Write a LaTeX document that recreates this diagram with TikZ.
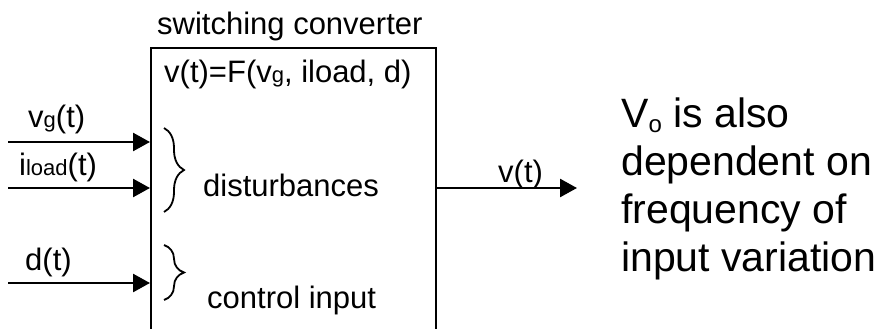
\documentclass[tikz,border=0pt]{standalone}
\usepackage{fontspec}
\setmainfont{Liberation Sans}
\usepackage{tikz}
\usetikzlibrary{arrows.meta,positioning,calc,decorations.pathreplacing}
\tikzset{
  block/.style={draw, line width=2pt, rectangle, inner sep=0pt},
  sig/.style={-{Triangle[length=17pt, width=18pt]}, line width=2.6pt},
  lbl/.style={font=\fontsize{31}{37}\selectfont, inner sep=0pt},
  note/.style={font=\fontsize{41}{48}\selectfont, inner sep=0pt, align=left},
  curly/.style={decorate, decoration={brace, amplitude=20pt}, line width=1.8pt},
}
% smaller index letters in the signal names
\newcommand{\idx}[1]{{\fontsize{22}{26}\selectfont #1}}

\begin{document}
\begin{tikzpicture}[x=1pt, y=-1pt]
  \useasboundingbox (0,0) rectangle (887,329);
  \clip (0,0) rectangle (887,329);

  % converter block (runs off the bottom)
  \node[block, minimum width=285pt, minimum height=300pt, anchor=north west]
    (conv) at (150,47) {};
  \node[lbl, anchor=base west] (title) at (157,35) {switching converter};
  \node[lbl, anchor=base west] (func) at (164,83) {v(t)=F(v\idx{g}, iload, d)};

  % inputs
  \coordinate (vgin) at (8,142);
  \coordinate (ilin) at (8,188);
  \coordinate (din)  at (8,283);
  \draw[sig] (vgin) -- (vgin -| conv.west);
  \draw[sig] (ilin) -- (ilin -| conv.west);
  \draw[sig] (din)  -- (din -| conv.west);
  \node[lbl, anchor=base west] (vgl) at (28,128) {v\idx{g}(t)};
  \node[lbl, anchor=base west] (ill) at (19,175) {i\idx{load}(t)};
  \node[lbl, anchor=base west] (dl)  at (25,270) {d(t)};

  % braces grouping the inputs
  \coordinate (b1top) at (164,128);
  \coordinate (b1bot) at (164,212);
  \coordinate (b2top) at (164,245);
  \coordinate (b2bot) at (164,300);
  \draw[curly] (b1top) -- (b1bot);
  \draw[curly] (b2top) -- (b2bot);
  \node[lbl, anchor=base west] (dist) at (203,196) {disturbances};
  \node[lbl, anchor=base west] (ctrl) at (207,308) {control input};

  % output
  \coordinate (vout) at (577,188);
  \draw[sig] (vout -| conv.east) -- (vout);
  \node[lbl, anchor=base west] (vl) at (498,182) {v(t)};

  \node[note, anchor=north west] (remark) at (621,98)
    {V\raisebox{-5pt}{\fontsize{24}{28}\selectfont o} is also\\dependent on\\frequency of\\input variation};
\end{tikzpicture}
\end{document}
